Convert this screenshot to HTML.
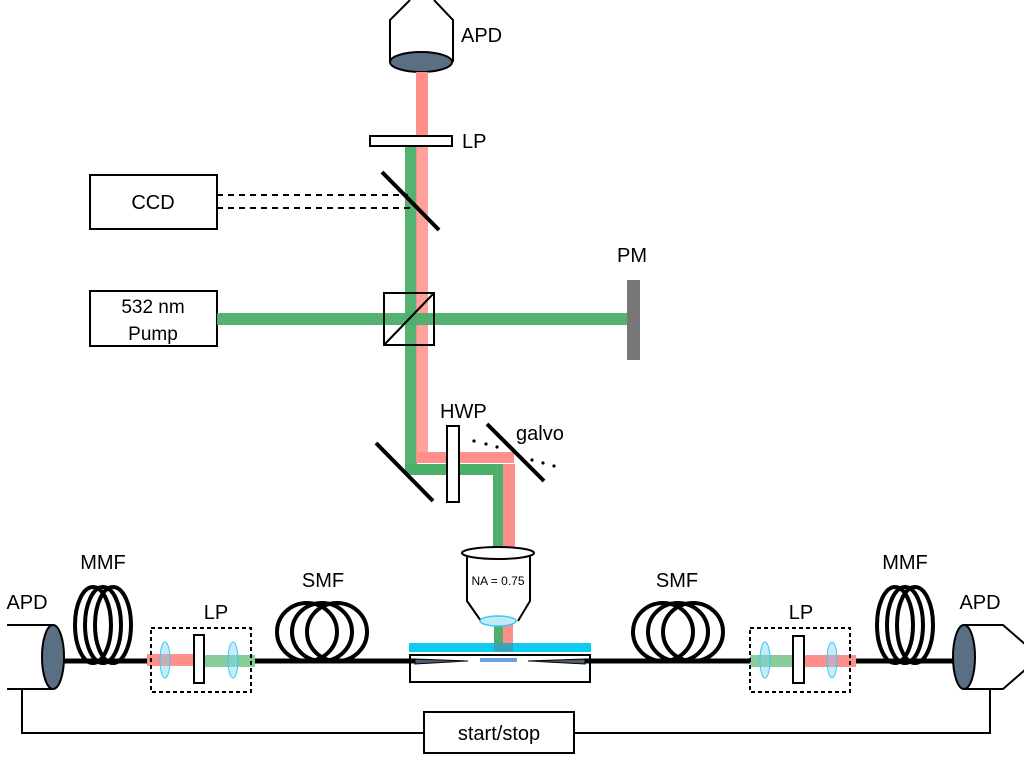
<!DOCTYPE html>
<html><head><style>html,body{margin:0;padding:0;background:#fff}svg{display:block}text{font-family:"Liberation Sans",sans-serif;fill:#000}</style></head><body>
<svg width="1024" height="768" viewBox="0 0 1024 768" xmlns="http://www.w3.org/2000/svg">
<!-- top APD -->
<path d="M390,62 V20 L410,0 M434,0 L453,20 V62" fill="none" stroke="#000" stroke-width="2"/>
<ellipse cx="421" cy="62" rx="31" ry="10" fill="#5a6e84" stroke="#000" stroke-width="2"/>
<text x="461" y="42" font-size="20">APD</text>
<!-- beams vertical -->
<rect x="416" y="72" width="12" height="64" fill="#ff8f8a"/>
<rect x="405" y="146" width="12" height="324" fill="#4caf6a" opacity="0.95"/>
<rect x="416" y="146" width="12" height="312" fill="#ff8f8a" opacity="0.85"/>
<rect x="370" y="136" width="82" height="10" fill="#fff" stroke="#000" stroke-width="2"/>
<text x="462" y="148" font-size="20">LP</text>
<!-- CCD -->
<rect x="90" y="175" width="127" height="54" fill="#fff" stroke="#000" stroke-width="2"/>
<text x="153" y="209" font-size="20" text-anchor="middle">CCD</text>
<path d="M217,195 H408 M217,208 H415" stroke="#000" stroke-width="2" stroke-dasharray="6,5"/>
<line x1="382" y1="172" x2="439" y2="230" stroke="#000" stroke-width="4"/>
<!-- Pump -->
<rect x="90" y="291" width="127" height="55" fill="#fff" stroke="#000" stroke-width="2"/>
<text x="153" y="313" font-size="19" text-anchor="middle">532 nm</text>
<text x="153" y="340" font-size="19" text-anchor="middle">Pump</text>
<rect x="217" y="313" width="412" height="12" fill="#4caf6a" opacity="0.95"/>
<rect x="384" y="293" width="50" height="52" fill="none" stroke="#000" stroke-width="2"/>
<line x1="384" y1="345" x2="434" y2="293" stroke="#000" stroke-width="2"/>
<rect x="627" y="280" width="13" height="80" fill="#777"/>
<text x="632" y="262" font-size="20" text-anchor="middle">PM</text>
<!-- lower mirror and beams -->
<rect x="405" y="464" width="100" height="11" fill="#4caf6a"/>
<rect x="416" y="452" width="98" height="11" fill="#ff8f8a"/>
<rect x="493" y="464" width="12" height="86" fill="#4caf6a"/>
<rect x="503" y="464" width="12" height="86" fill="#ff8f8a"/>
<line x1="376" y1="443" x2="433" y2="501" stroke="#000" stroke-width="4"/>
<rect x="447" y="426" width="12" height="76" fill="#fff" stroke="#000" stroke-width="2"/>
<text x="440" y="418" font-size="20">HWP</text>
<line x1="487" y1="424" x2="544" y2="481" stroke="#000" stroke-width="4"/>
<g fill="#000"><circle cx="474" cy="441" r="1.6"/><circle cx="486" cy="444" r="1.6"/><circle cx="497" cy="447" r="1.6"/><circle cx="532" cy="460" r="1.6"/><circle cx="543" cy="463" r="1.6"/><circle cx="554" cy="466" r="1.6"/></g>
<text x="516" y="440" font-size="20">galvo</text>
<!-- objective -->
<path d="M467,555 V601 L481,621 M530,555 V601 L518,621" fill="none" stroke="#000" stroke-width="2"/>
<ellipse cx="498" cy="553" rx="36" ry="6" fill="#fff" stroke="#000" stroke-width="2"/>
<text x="498" y="585" font-size="12" text-anchor="middle">NA = 0.75</text>
<rect x="494" y="622" width="10" height="28" fill="#4caf6a"/>
<rect x="503" y="622" width="10" height="28" fill="#ff8f8a"/>
<ellipse cx="498" cy="621" rx="18" ry="5" fill="#bfeaf8" stroke="#3cc8f0" stroke-width="1.5"/>
<rect x="409" y="643" width="182" height="9" fill="#00c8f0" opacity="0.95"/>
<rect x="494" y="643" width="19" height="9" fill="#5a8a9a" opacity="0.6"/>
<!-- sample -->
<rect x="410" y="655" width="180" height="27" fill="#fff" stroke="#000" stroke-width="2"/>
<rect x="480" y="658" width="37" height="4" fill="#6aa0e8"/>
<path d="M415,659 L468,661 L415,664Z M585,659 L528,661 L585,664Z" fill="#4a5e70" stroke="#000" stroke-width="1"/>
<!-- fibers -->
<line x1="63" y1="661" x2="415" y2="661" stroke="#000" stroke-width="5"/>
<line x1="585" y1="661" x2="962" y2="661" stroke="#000" stroke-width="5"/>
<!-- left APD -->
<path d="M7,625 H52 M7,689 H52" stroke="#000" stroke-width="2"/>
<ellipse cx="53" cy="657" rx="11" ry="32" fill="#5a6e84" stroke="#000" stroke-width="2"/>
<text x="27" y="609" font-size="20" text-anchor="middle">APD</text>
<!-- coils -->
<g fill="none" stroke="#000" stroke-width="4">
<ellipse cx="93" cy="625" rx="18" ry="38"/><ellipse cx="103" cy="625" rx="18" ry="38"/><ellipse cx="113" cy="625" rx="18" ry="38"/>
<ellipse cx="307" cy="632" rx="30" ry="29"/><ellipse cx="322" cy="632" rx="30" ry="29"/><ellipse cx="337" cy="632" rx="30" ry="29"/>
<ellipse cx="663" cy="632" rx="30" ry="29"/><ellipse cx="678" cy="632" rx="30" ry="29"/><ellipse cx="693" cy="632" rx="30" ry="29"/>
<ellipse cx="895" cy="625" rx="18" ry="38"/><ellipse cx="905" cy="625" rx="18" ry="38"/><ellipse cx="915" cy="625" rx="18" ry="38"/>
</g>
<text x="103" y="569" font-size="20" text-anchor="middle">MMF</text>
<text x="323" y="587" font-size="20" text-anchor="middle">SMF</text>
<text x="677" y="587" font-size="20" text-anchor="middle">SMF</text>
<text x="905" y="569" font-size="20" text-anchor="middle">MMF</text>
<!-- left LP box -->
<rect x="147" y="654" width="48" height="12" fill="#ff8f8a"/>
<rect x="204" y="655" width="51" height="12" fill="#88cc99"/>
<rect x="151" y="628" width="100" height="64" fill="none" stroke="#000" stroke-width="2" stroke-dasharray="4,3"/>
<ellipse cx="165" cy="660" rx="5" ry="18" fill="#80d4f0" fill-opacity="0.45" stroke="#3cc8f0" stroke-width="1"/>
<ellipse cx="233" cy="660" rx="5" ry="18" fill="#80d4f0" fill-opacity="0.45" stroke="#3cc8f0" stroke-width="1"/>
<rect x="194" y="635" width="10" height="48" fill="#fff" stroke="#000" stroke-width="2"/>
<text x="216" y="619" font-size="20" text-anchor="middle">LP</text>
<!-- right LP box -->
<rect x="750" y="655" width="44" height="12" fill="#88cc99"/>
<rect x="804" y="655" width="52" height="12" fill="#ff8f8a"/>
<rect x="750" y="628" width="100" height="64" fill="none" stroke="#000" stroke-width="2" stroke-dasharray="4,3"/>
<ellipse cx="765" cy="660" rx="5" ry="18" fill="#80d4f0" fill-opacity="0.45" stroke="#3cc8f0" stroke-width="1"/>
<ellipse cx="832" cy="660" rx="5" ry="18" fill="#80d4f0" fill-opacity="0.45" stroke="#3cc8f0" stroke-width="1"/>
<rect x="793" y="636" width="11" height="47" fill="#fff" stroke="#000" stroke-width="2"/>
<text x="801" y="619" font-size="20" text-anchor="middle">LP</text>
<!-- right APD -->
<path d="M964,625 H1003 L1026,645 M964,689 H1003 L1026,669" fill="none" stroke="#000" stroke-width="2"/>
<ellipse cx="964" cy="657" rx="11" ry="32" fill="#5a6e84" stroke="#000" stroke-width="2"/>
<text x="980" y="609" font-size="20" text-anchor="middle">APD</text>
<!-- start/stop -->
<path d="M22,689 V733 H424 M574,733 H990 V689" fill="none" stroke="#000" stroke-width="2"/>
<rect x="424" y="712" width="150" height="41" fill="#fff" stroke="#000" stroke-width="2"/>
<text x="499" y="740" font-size="20" text-anchor="middle">start/stop</text>
</svg>
</body></html>
